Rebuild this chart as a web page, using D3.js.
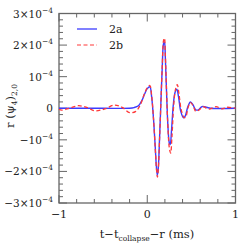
<!DOCTYPE html>
<html>
<head>
<meta charset="utf-8">
<script src="https://cdn.jsdelivr.net/npm/d3@7"></script>
<style>
  html, body { margin: 0; padding: 0; background: #fff; }
  svg { display: block; }
  text { font-family: "DejaVu Serif", serif; fill: #222; }
</style>
</head>
<body>
<svg id="chart" width="249" height="249"></svg>
<script>
// data: tid (ms) og amplitude (enheder af 1e-4)
var tA = [-1, -0.5, -0.2, -0.15, -0.1, -0.06, -0.03, 0.0, 0.03, 0.05, 0.07, 0.09, 0.105, 0.115, 0.125, 0.14,
          0.155, 0.17, 0.185, 0.195, 0.205, 0.22, 0.235, 0.25, 0.26, 0.275, 0.295, 0.315, 0.335, 0.355,
          0.38, 0.41, 0.43, 0.46, 0.49, 0.52, 0.55, 0.58, 0.62, 0.66, 0.72, 1];
var vA = [0, 0, 0, 0.02, 0.08, 0.25, 0.45, 0.62, 0.68, 0.35, -0.3, -1.2, -1.9, -2.12, -1.9, -0.9,
          0.2, 1.3, 2.05, 2.1, 1.6, 0.4, -0.6, -1.1, -1.15, -0.7, 0.1, 0.5, 0.6, 0.35,
          -0.1, -0.3, -0.25, 0.05, 0.2, 0.1, -0.05, -0.05, 0.05, 0.04, 0.0, 0];

var tB = [-1, -0.97, -0.88, -0.78, -0.68, -0.59, -0.48, -0.37, -0.28, -0.2, -0.13, -0.08, -0.04, 0.0, 0.03,
          0.05, 0.07, 0.09, 0.105, 0.115, 0.125, 0.14, 0.155, 0.17, 0.185, 0.195, 0.205, 0.22, 0.235,
          0.25, 0.265, 0.28, 0.3, 0.32, 0.34, 0.36, 0.385, 0.42, 0.44, 0.46, 0.49, 0.52, 0.55, 0.59,
          0.63, 0.7, 0.78, 0.85, 0.9, 1];
var vB = [-0.03, -0.06, 0.0, 0.08, 0.02, -0.08, -0.02, 0.1, 0.02, -0.14, -0.1, 0.1, 0.4, 0.65, 0.72,
          0.4, -0.3, -1.25, -1.95, -2.18, -1.95, -0.95, 0.2, 1.35, 2.15, 2.22, 1.7, 0.45, -0.65,
          -1.25, -1.42, -0.9, 0.1, 0.6, 0.75, 0.45, -0.05, -0.3, -0.25, 0.0, 0.18, 0.08, -0.1, -0.05,
          0.05, -0.03, 0.05, -0.02, 0.03, 0];

var yTickVals = [-3, -2, -1, 0, 1, 2, 3];
var yTickLabels = ["\u22123\u00d710", "\u22122\u00d710", "\u221210", "0", "10", "2\u00d710", "3\u00d710"];
var xTickVals = [-1, 0, 1];
var xTickLabels = ["\u22121", "0", "1"];
var seriesNames = ["2a", "2b"];

var svg = d3.select("#chart");
var x = d3.scaleLinear().domain([-1, 1]).range([59, 235.5]);
var y = d3.scaleLinear().domain([-3, 3]).range([203, 13.5]);

var frameColor = "#666";

// ramme
svg.append("rect")
    .attr("x", x(-1)).attr("y", y(3))
    .attr("width", x(1) - x(-1)).attr("height", y(-3) - y(3))
    .attr("fill", "none").attr("stroke", frameColor).attr("stroke-width", 1.3);

// x-ticks (inad, top og bund)
var xMinor = d3.range(-1, 1.001, 0.2);
xMinor.forEach(function(t) {
    var major = Math.abs(t - Math.round(t)) < 1e-6;
    var len = major ? 8 : 4;
    svg.append("line").attr("x1", x(t)).attr("x2", x(t)).attr("y1", y(-3)).attr("y2", y(-3) - len)
        .attr("stroke", frameColor).attr("stroke-width", 1);
    svg.append("line").attr("x1", x(t)).attr("x2", x(t)).attr("y1", y(3)).attr("y2", y(3) + len)
        .attr("stroke", frameColor).attr("stroke-width", 1);
});

// y-ticks (venstre og højre)
var yMinor = d3.range(-3, 3.001, 0.2);
yMinor.forEach(function(v) {
    var major = Math.abs(v - Math.round(v)) < 1e-6;
    var len = major ? 8 : 4;
    svg.append("line").attr("x1", x(-1)).attr("x2", x(-1) + len).attr("y1", y(v)).attr("y2", y(v))
        .attr("stroke", frameColor).attr("stroke-width", 1);
    svg.append("line").attr("x1", x(1)).attr("x2", x(1) - len).attr("y1", y(v)).attr("y2", y(v))
        .attr("stroke", frameColor).attr("stroke-width", 1);
});

// y-tick labels
yTickVals.forEach(function(v, i) {
    var txt = svg.append("text")
        .attr("x", 53).attr("y", y(v) + 4)
        .attr("text-anchor", "end")
        .style("font-size", "10.5px");
    txt.append("tspan").text(yTickLabels[i]);
    if (v !== 0) {
        txt.append("tspan").attr("dy", -5).style("font-size", "7.5px").text("\u22124");
    }
});

// x-tick labels
xTickVals.forEach(function(t, i) {
    svg.append("text")
        .attr("x", x(t)).attr("y", 218)
        .attr("text-anchor", "middle")
        .style("font-size", "11px")
        .text(xTickLabels[i]);
});

// x-akse titel
var xl = svg.append("text")
    .attr("x", 147).attr("y", 238)
    .attr("text-anchor", "middle")
    .style("font-size", "11.5px");
xl.append("tspan").text("t\u2212t");
xl.append("tspan").attr("dy", 3).style("font-size", "7.5px").text("collapse");
xl.append("tspan").attr("dy", -3).text("\u2212r (ms)");

// y-akse titel
var yl = svg.append("text")
    .attr("transform", "translate(14,106) rotate(-90)")
    .attr("text-anchor", "middle")
    .style("font-size", "11.5px");
yl.append("tspan").text("r (\u03c8");
yl.append("tspan").attr("dy", 3).style("font-size", "7.5px").text("4");
yl.append("tspan").attr("dy", -3).text(")");
yl.append("tspan").attr("dy", 3).style("font-size", "7.5px").text("2,0");

// kurver
var line = d3.line()
    .x(function(d) { return x(d[0]); })
    .y(function(d) { return y(d[1]); })
    .curve(d3.curveCatmullRom.alpha(0.5));

var dataA = tA.map(function(t, i) { return [t, vA[i]]; });
var dataB = tB.map(function(t, i) { return [t, vB[i]]; });

svg.append("path").datum(dataA)
    .attr("d", line).attr("fill", "none")
    .attr("stroke", "#3b3bff").attr("stroke-width", 1.4);

svg.append("path").datum(dataB)
    .attr("d", line).attr("fill", "none")
    .attr("stroke", "#ff3838").attr("stroke-width", 1.3)
    .attr("stroke-dasharray", "4,2.5");

// legende
svg.append("line").attr("x1", 77).attr("x2", 97).attr("y1", 29).attr("y2", 29)
    .attr("stroke", "#3b3bff").attr("stroke-width", 1.3);
svg.append("line").attr("x1", 77).attr("x2", 97).attr("y1", 45).attr("y2", 45)
    .attr("stroke", "#ff3838").attr("stroke-width", 1.2).attr("stroke-dasharray", "4,2.5");
seriesNames.forEach(function(n, i) {
    svg.append("text")
        .attr("x", 109).attr("y", 33 + i * 16)
        .style("font-size", "11px")
        .text(n);
});
</script>
</body>
</html>
